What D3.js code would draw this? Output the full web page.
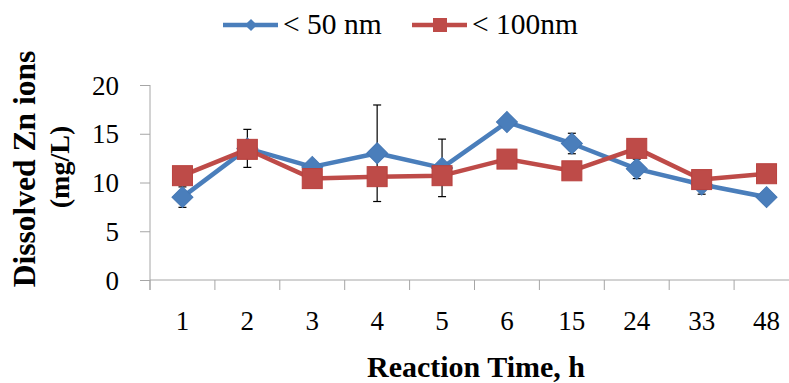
<!DOCTYPE html>
<html>
<head>
<meta charset="utf-8">
<script src="https://cdn.jsdelivr.net/npm/d3@7"></script>
<style>
  html, body { margin: 0; padding: 0; background: #fff; }
  svg { display: block; }
  text { font-family: "Liberation Serif", "Times New Roman", serif; fill: #000; }
</style>
</head>
<body>
<svg id="chart" width="789" height="383"></svg>
<script>
const categories = ["1", "2", "3", "4", "5", "6", "15", "24", "33", "48"];
const series50 = [8.5, 13.5, 11.6, 13.0, 11.5, 16.2, 14.0, 11.4, 9.8, 8.5];
const error50 = [1.05, 1.95, 0, 4.95, 2.95, 0, 1.05, 1.0, 1.0, 0];
const series100 = [10.7, 13.4, 10.4, 10.6, 10.7, 12.4, 11.2, 13.5, 10.3, 10.9];
const yTicks = [0, 5, 10, 15, 20];
const seriesNames = ["< 50 nm", "< 100nm"];
const yTitle = ["Dissolved Zn ions", "(mg/L)"];
const xTitle = "Reaction Time, h";

const blue = "#4a7ebb", red = "#be4b48", axisColor = "#a6a6a6";

const svg = d3.select("#chart");
const x = d3.scaleBand().domain(categories).range([150, 799]);
const y = d3.scaleLinear().domain([0, 20]).range([280, 85]);
const cx = d => x(d) + x.bandwidth() / 2;

// Y axis
const yAxis = d3.axisLeft(y).tickValues(yTicks).tickSize(10).tickPadding(21);
const gy = svg.append("g").attr("transform", "translate(150,0)").call(yAxis);
gy.select(".domain").attr("d", `M0,${y(20)}V290`).attr("stroke", axisColor);
gy.selectAll(".tick line").attr("stroke", axisColor);
gy.selectAll(".tick text").attr("font-size", 27).attr("font-family", "Liberation Serif").attr("fill", "#000").attr("dy", "0.34em");

// X axis
const xAxis = d3.axisBottom(x).tickSize(0).tickPadding(0);
const gx = svg.append("g").attr("transform", "translate(0,280)").call(xAxis);
gx.select(".domain").attr("d", "M150,0H799").attr("stroke", axisColor);
gx.selectAll(".tick text").attr("font-size", 27).attr("font-family", "Liberation Serif").attr("fill", "#000").attr("dy", 0).attr("y", 50);
// x tick marks at category boundaries
const bounds = categories.map(c => x(c)).concat([x.range()[1]]);
gx.selectAll("line.bound").data(bounds).enter().append("line")
  .attr("class", "bound").attr("x1", d => d).attr("x2", d => d)
  .attr("y1", 0).attr("y2", 10).attr("stroke", axisColor);

// Error bars (for < 50 nm)
const eb = svg.append("g").attr("stroke", "#000").attr("stroke-width", 1.2);
categories.forEach((c, i) => {
  if (!error50[i]) return;
  const xc = cx(c), y1 = y(series50[i] + error50[i]), y2 = y(series50[i] - error50[i]);
  eb.append("line").attr("x1", xc).attr("x2", xc).attr("y1", y1).attr("y2", y2);
  eb.append("line").attr("x1", xc - 4).attr("x2", xc + 4).attr("y1", y1).attr("y2", y1);
  eb.append("line").attr("x1", xc - 4).attr("x2", xc + 4).attr("y1", y2).attr("y2", y2);
});

const line = d3.line().x((d, i) => cx(categories[i])).y(d => y(d));

// Series < 50 nm
svg.append("path").datum(series50).attr("d", line).attr("fill", "none")
  .attr("stroke", blue).attr("stroke-width", 4.5).attr("stroke-linejoin", "round");
const diamond = d3.symbol().type(d3.symbolSquare).size(220);
svg.append("g").selectAll("path").data(series50).enter().append("path")
  .attr("d", diamond)
  .attr("transform", (d, i) => `translate(${cx(categories[i])},${y(d)}) rotate(45)`)
  .attr("fill", blue).attr("stroke", "#4577b4").attr("stroke-width", 1);

// Series < 100 nm
svg.append("path").datum(series100).attr("d", line).attr("fill", "none")
  .attr("stroke", red).attr("stroke-width", 4.5).attr("stroke-linejoin", "round");
svg.append("g").selectAll("rect").data(series100).enter().append("rect")
  .attr("x", (d, i) => cx(categories[i]) - 10).attr("y", d => y(d) - 10)
  .attr("width", 20).attr("height", 20)
  .attr("fill", red).attr("stroke", "#b9413e").attr("stroke-width", 1);

// Axis titles
svg.append("text").attr("x", 476).attr("y", 377).attr("text-anchor", "middle")
  .attr("font-size", 30).attr("font-weight", "bold").text(xTitle);
svg.append("text").attr("transform", "translate(35,169) rotate(-90)").attr("text-anchor", "middle")
  .attr("font-size", 31.5).attr("font-weight", "bold").text(yTitle[0]);
svg.append("text").attr("transform", "translate(69,167) rotate(-90)").attr("text-anchor", "middle")
  .attr("font-size", 28).attr("font-weight", "bold").text(yTitle[1]);

// Legend
const lg = svg.append("g");
lg.append("line").attr("x1", 223).attr("x2", 278).attr("y1", 25).attr("y2", 25).attr("stroke", blue).attr("stroke-width", 4.5);
lg.append("path").attr("d", d3.symbol().type(d3.symbolSquare).size(75)).attr("transform", "translate(251,25) rotate(45)").attr("fill", blue);
lg.append("text").attr("x", 283).attr("y", 34).attr("font-size", 29.5).text(seriesNames[0]);
lg.append("line").attr("x1", 412).attr("x2", 467).attr("y1", 25).attr("y2", 25).attr("stroke", red).attr("stroke-width", 4.5);
lg.append("rect").attr("x", 433).attr("y", 18).attr("width", 14).attr("height", 14).attr("fill", red);
lg.append("text").attr("x", 472).attr("y", 34).attr("font-size", 29.5).text(seriesNames[1]);
</script>
</body>
</html>
